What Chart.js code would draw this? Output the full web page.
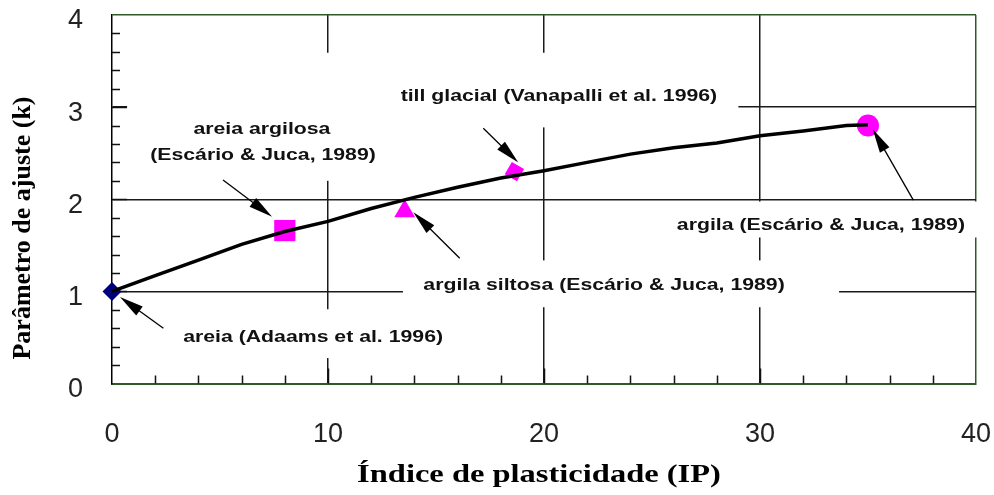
<!DOCTYPE html>
<html>
<head>
<meta charset="utf-8">
<script src="https://cdn.jsdelivr.net/npm/chart.js@4/dist/chart.umd.min.js"></script>
<style>
html,body{margin:0;padding:0;background:#fff;}
#wrap{width:994px;height:495px;}
</style>
</head>
<body>
<div id="wrap"><canvas id="c" width="994" height="495"></canvas></div>
<script>
// ---- data ----
const ipValues = [0, 2, 4, 6, 8, 10, 12, 14, 16, 18, 20, 22, 24, 26, 28, 30, 32, 34, 35];
const kValues  = [1.00, 1.17, 1.34, 1.51, 1.65, 1.76, 1.90, 2.02, 2.13, 2.23, 2.31, 2.40, 2.49, 2.56, 2.61, 2.69, 2.74, 2.80, 2.81];
const soilNames = ['areia', 'areia argilosa', 'argila siltosa', 'till glacial', 'argila'];
const soilIP = [0, 8, 13.55, 18.63, 35];
const soilK  = [1.00, 1.66, 1.87, 2.30, 2.80];
const xTickValues = [0, 10, 20, 30, 40];
const xTickLabels = ['0', '10', '20', '30', '40'];
const yTickValues = [0, 1, 2, 3, 4];
const yTickLabels = ['0', '1', '2', '3', '4'];
const xTitle = 'Índice de plasticidade (IP)';
const yTitle = 'Parâmetro de ajuste (k)';
const noteTexts = ['areia argilosa', '(Escário & Juca, 1989)', 'till glacial (Vanapalli et al. 1996)',
                   'argila (Escário & Juca, 1989)', 'argila siltosa (Escário & Juca, 1989)', 'areia (Adaams et al. 1996)'];

// ---- annotation layout (in data units) ----
const notePlace = [
  {x: 6.94, y: 2.711}, {x: 6.99, y: 2.43}, {x: 20.69, y: 3.068},
  {x: 32.82, y: 1.661}, {x: 22.78, y: 1.012}, {x: 9.31, y: 0.452}
];
const arrowPlace = [
  {x1: 2.38, y1: 0.60, x2: 0.37, y2: 0.94},
  {x1: 5.14, y1: 2.21, x2: 7.41, y2: 1.81},
  {x1: 17.19, y1: 2.77, x2: 18.81, y2: 2.40},
  {x1: 16.10, y1: 1.36, x2: 13.95, y2: 1.86},
  {x1: 37.10, y1: 1.99, x2: 35.22, y2: 2.76}
];
const maskPlace = [
  {x1: 0.7, x2: 29.0, y1: 2.78, y2: 3.59},
  {x1: 0.7, x2: 12.0, y1: 2.20, y2: 2.78},
  {x1: 25.4, x2: 40.5, y1: 1.585, y2: 1.975},
  {x1: 13.47, x2: 33.66, y1: 0.828, y2: 1.336},
  {x1: 2.7, x2: 16.1, y1: 0.276, y2: 0.806}
];

const GREEN = '#2f5a28';
const STRETCH = 1.25;

const markerStyles = [
  {pointStyle: 'rectRot', radius: 9.5, color: '#00007a', rotation: 0},
  {pointStyle: 'rect', radius: 15, color: '#ff00ff', rotation: 0},
  {pointStyle: 'triangle', radius: 12, color: '#ff00ff', rotation: 0},
  {pointStyle: 'rect', radius: 10, color: '#ff00ff', rotation: 30},
  {pointStyle: 'circle', radius: 11, color: '#ff00ff', rotation: 0}
];

const datasets = [{
  label: 'k(IP)',
  data: ipValues.map((x, i) => ({x: x, y: kValues[i]})),
  showLine: true,
  borderColor: '#000',
  borderWidth: 3.5,
  pointRadius: 0,
  tension: 0,
  clip: false,
  order: 0
}];
soilNames.forEach((n, i) => {
  const s = markerStyles[i];
  datasets.push({
    label: n,
    data: [{x: soilIP[i], y: soilK[i]}],
    showLine: false,
    pointStyle: s.pointStyle,
    pointRadius: s.radius,
    pointRotation: s.rotation,
    backgroundColor: s.color,
    borderColor: s.color,
    pointBorderWidth: 0,
    clip: false,
    order: 1
  });
});

function drawArrow(ctx, x1, y1, x2, y2) {
  const a = Math.atan2(y2 - y1, x2 - x1);
  const L = 24, W = 5.5;
  const c = Math.cos(a), s = Math.sin(a);
  ctx.beginPath();
  ctx.moveTo(x1, y1);
  ctx.lineTo(x2 - c * L * 0.7, y2 - s * L * 0.7);
  ctx.stroke();
  ctx.beginPath();
  ctx.moveTo(x2, y2);
  ctx.lineTo(x2 - c * L - s * W, y2 - s * L + c * W);
  ctx.lineTo(x2 - c * L + s * W, y2 - s * L - c * W);
  ctx.closePath();
  ctx.fill();
}

function zeroPad(s) {
  s.paddingTop = 0; s.paddingBottom = 0; s.paddingLeft = 0; s.paddingRight = 0;
}

const decor = {
  id: 'decor',
  beforeDatasetsDraw(chart) {
    const {ctx, scales: {x, y}, chartArea: ca} = chart;
    ctx.save();
    // white label backgrounds hiding grid lines
    ctx.fillStyle = '#fff';
    maskPlace.forEach(m => {
      const px1 = x.getPixelForValue(m.x1), px2 = x.getPixelForValue(m.x2);
      const py1 = y.getPixelForValue(m.y2), py2 = y.getPixelForValue(m.y1);
      ctx.fillRect(px1, py1, px2 - px1, py2 - py1);
    });
    // inward tick marks
    ctx.strokeStyle = '#111';
    ctx.lineWidth = 1.5;
    ctx.beginPath();
    for (let v = 0.2; v < 4; v += 0.2) {
      const py = Math.round(y.getPixelForValue(v)) + 0.5;
      const major = Math.abs(v - Math.round(v)) < 1e-6;
      ctx.moveTo(ca.left, py);
      ctx.lineTo(ca.left + (major ? 15 : 8), py);
    }
    for (let v = 2; v < 40; v += 2) {
      const px = Math.round(x.getPixelForValue(v)) + 0.5;
      const major = v % 10 === 0;
      ctx.moveTo(px, ca.bottom);
      ctx.lineTo(px, ca.bottom - (major ? 15 : 8));
    }
    ctx.stroke();
    ctx.restore();
  },
  afterDatasetsDraw(chart) {
    const {ctx, scales: {x, y}} = chart;
    ctx.save();
    ctx.strokeStyle = '#000';
    ctx.fillStyle = '#000';
    ctx.lineWidth = 1.3;
    arrowPlace.forEach(a => {
      drawArrow(ctx, x.getPixelForValue(a.x1), y.getPixelForValue(a.y1),
                     x.getPixelForValue(a.x2), y.getPixelForValue(a.y2));
    });
    ctx.font = 'bold 17px "Liberation Sans", Arial, sans-serif';
    ctx.textAlign = 'center';
    ctx.textBaseline = 'alphabetic';
    ctx.fillStyle = '#111';
    noteTexts.forEach((t, i) => {
      const p = notePlace[i];
      ctx.save();
      ctx.translate(x.getPixelForValue(p.x), y.getPixelForValue(p.y));
      ctx.scale(STRETCH, 1);
      ctx.fillText(t, 0, 0);
      ctx.restore();
    });
    // axis titles
    ctx.fillStyle = '#000';
    ctx.font = 'bold 26px "Liberation Serif", "Times New Roman", serif';
    ctx.save();
    ctx.translate(539, 482);
    ctx.scale(STRETCH, 1);
    ctx.fillText(xTitle, 0, 0);
    ctx.restore();
    ctx.save();
    ctx.translate(30, 228);
    ctx.rotate(-Math.PI / 2);
    ctx.fillText(yTitle, 0, 0);
    ctx.restore();
    ctx.restore();
  }
};

new Chart(document.getElementById('c'), {
  type: 'scatter',
  data: {datasets: datasets},
  options: {
    responsive: false,
    animation: false,
    devicePixelRatio: 1,
    events: [],
    layout: {padding: {top: 14, right: 18, left: 0, bottom: 0}},
    plugins: {legend: {display: false}, tooltip: {enabled: false}},
    scales: {
      x: {
        type: 'linear', min: 0, max: 40,
        afterFit: s => { s.height = 111.5; zeroPad(s); },
        afterBuildTicks: s => { s.ticks = xTickValues.map(v => ({value: v})); },
        ticks: {
          padding: 35, color: '#222',
          font: {family: '"Liberation Sans", Arial, sans-serif', size: 27},
          callback: v => xTickLabels[xTickValues.indexOf(v)]
        },
        grid: {
          drawTicks: false, lineWidth: 1.5,
          color: c => c.tick.value === 0 ? 'rgba(0,0,0,0)' : (c.tick.value === 40 ? GREEN : '#1a1a1a')
        },
        border: {color: GREEN, width: 2}
      },
      y: {
        type: 'linear', min: 0, max: 4,
        afterFit: s => { s.width = 112; zeroPad(s); },
        afterBuildTicks: s => { s.ticks = yTickValues.map(v => ({value: v})); },
        ticks: {
          padding: 29, labelOffset: 6, color: '#222',
          font: {family: '"Liberation Sans", Arial, sans-serif', size: 27},
          callback: v => yTickLabels[yTickValues.indexOf(v)]
        },
        grid: {
          drawTicks: false, lineWidth: 1.5,
          color: c => c.tick.value === 0 ? 'rgba(0,0,0,0)' : (c.tick.value === 4 ? GREEN : '#1a1a1a')
        },
        border: {color: '#000', width: 1.5}
      }
    }
  },
  plugins: [decor]
});
</script>
</body>
</html>
